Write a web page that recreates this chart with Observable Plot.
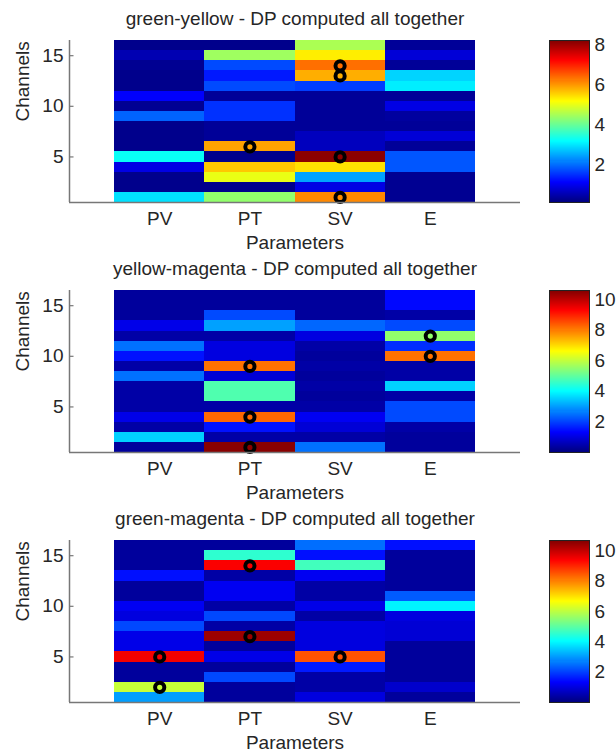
<!DOCTYPE html>
<html>
<head>
<meta charset="utf-8">
<script src="https://cdn.jsdelivr.net/npm/d3@7"></script>
<script src="https://cdn.jsdelivr.net/npm/@observablehq/plot@0.6"></script>
<style>
  body { margin: 0; background: #fff; }
  .panel { position: relative; width: 616px; height: 250px; }
  .panel svg { position: absolute; top: 0; }
</style>
</head>
<body>
<div id="root"></div>
<script>
// ---------- data ----------
const params = ["PV", "PT", "SV", "E"];
const channelTicks = [5, 10, 15];

// Values per parameter, channel 1 .. 16
// Panel 1: green-yellow
const gyTitle = "green-yellow - DP computed all together";
const gyRange = [0.1, 8.2];
const gyTicks = [2, 4, 6, 8];
const gyPV = [2.9, 0.2, 0.2, 0.9, 3.2, 0.2, 0.2, 0.2, 1.9, 0.25, 1.1, 0.2, 0.2, 0.25, 0.5, 0.2];
const gyPT = [4.3, 0.2, 5.0, 5.6, 0.2, 5.9, 0.3, 0.3, 1.5, 1.5, 0.3, 1.7, 1.3, 1.7, 4.4, 0.2];
const gySV = [6.1, 0.9, 2.4, 5.4, 8.1, 0.6, 0.6, 0.3, 0.3, 0.3, 0.3, 1.6, 5.8, 6.3, 5.3, 4.5];
const gyE  = [0.25, 0.25, 0.25, 1.8, 1.8, 0.3, 0.8, 0.3, 0.35, 0.9, 0.3, 3.0, 2.8, 0.3, 0.8, 0.3];
const gyMarks = [["PT", 6], ["SV", 14], ["SV", 13], ["SV", 5], ["SV", 1]];

// Panel 2: yellow-magenta
const ymTitle = "yellow-magenta - DP computed all together";
const ymRange = [0, 10.6];
const ymTicks = [2, 4, 6, 8, 10];
const ymPV = [0.3, 3.5, 0.4, 1.1, 0.4, 0.4, 0.4, 2.5, 0.4, 1.5, 2.5, 0.4, 1.1, 0.3, 0.3, 0.3];
const ymPT = [10.5, 0.4, 1.5, 8.2, 0.4, 4.8, 4.8, 0.9, 8.1, 1.0, 1.0, 0.4, 3.0, 2.1, 0.3, 0.3];
const ymSV = [2.5, 0.4, 0.9, 1.2, 0.4, 0.3, 0.4, 0.3, 0.4, 0.3, 0.4, 1.0, 2.4, 0.3, 0.3, 0.3];
const ymE  = [0.3, 0.3, 0.4, 2.1, 2.1, 0.4, 3.5, 0.4, 0.4, 8.1, 1.8, 5.5, 2.1, 0.4, 1.4, 1.4];
const ymMarks = [["PT", 9], ["PT", 4], ["PT", 1], ["E", 12], ["E", 10]];

// Panel 3: green-magenta
const gmTitle = "green-magenta - DP computed all together";
const gmRange = [0, 10.7];
const gmTicks = [2, 4, 6, 8, 10];
const gmPV = [3.0, 6.1, 0.3, 0.3, 9.5, 1.1, 1.1, 2.1, 1.0, 1.2, 0.3, 0.3, 1.5, 0.3, 0.3, 0.3];
const gmPT = [0.3, 0.3, 2.1, 0.3, 1.1, 0.3, 10.4, 0.4, 2.1, 0.4, 1.2, 1.2, 0.4, 9.4, 4.5, 0.3];
const gmSV = [1.0, 0.4, 0.4, 1.6, 8.5, 1.0, 1.0, 1.0, 0.4, 1.1, 0.4, 0.4, 1.2, 4.7, 1.5, 2.5];
const gmE  = [0.3, 0.8, 0.3, 0.3, 0.3, 0.3, 0.9, 0.9, 1.0, 3.9, 2.3, 0.3, 0.3, 0.3, 0.3, 1.5];
const gmMarks = [["PV", 5], ["PV", 2], ["PT", 14], ["PT", 7], ["SV", 5]];

// ---------- rendering ----------
const jet = d3.piecewise(d3.interpolateRgb, [
  "#00007f", "#0000ff", "#007fff", "#00ffff", "#7fff7f",
  "#ffff00", "#ff7f00", "#ff0000", "#7f0000"
]);
const FONT = "'Liberation Sans', Arial, Helvetica, sans-serif";
const TXT = "#262626";
const FS = 19;

const panels = [
  {title: gyTitle, range: gyRange, ticks: gyTicks, cols: [gyPV, gyPT, gySV, gyE], marks: gyMarks},
  {title: ymTitle, range: ymRange, ticks: ymTicks, cols: [ymPV, ymPT, ymSV, ymE], marks: ymMarks},
  {title: gmTitle, range: gmRange, ticks: gmTicks, cols: [gmPV, gmPT, gmSV, gmE], marks: gmMarks}
];

const root = document.getElementById("root");

for (const p of panels) {
  const cells = [];
  p.cols.forEach((col, i) => col.forEach((v, k) => cells.push({i, ch: k + 1, v})));
  const circ = p.marks.map(([name, ch]) => ({i: params.indexOf(name), ch}));
  const colorScale = {type: "linear", domain: p.range, interpolate: jet};

  const main = Plot.plot({
    width: 616, height: 250,
    marginTop: 40, marginBottom: 48, marginLeft: 69, marginRight: 96,
    style: {fontFamily: FONT, fontSize: FS + "px", color: TXT, background: "transparent", overflow: "visible"},
    x: {domain: [0, 5], axis: null},
    y: {domain: [0.5, 16.5], axis: null},
    color: colorScale,
    marks: [
      Plot.rect(cells, {
        x1: d => d.i + 0.5, x2: d => d.i + 1.5,
        y1: d => d.ch - 0.5, y2: d => d.ch + 0.5,
        fill: "v", shapeRendering: "crispEdges"
      }),
      Plot.dot(circ, {x: d => d.i + 1, y: "ch", r: 4.6, stroke: "black", strokeWidth: 4, fill: "none"}),
      Plot.ruleX([0], {stroke: "#777", strokeWidth: 1.5}),
      Plot.ruleY([0.5], {stroke: "#777", strokeWidth: 1.5}),
      Plot.ruleY(channelTicks, {x1: 0, x2: 0.05, stroke: "#777", strokeWidth: 1.2}),
      Plot.text(channelTicks, {y: d => d, frameAnchor: "left", dx: -6, textAnchor: "end", fontSize: FS}),
      Plot.text(params, {x: (d, i) => i + 1, frameAnchor: "bottom", dy: 16, lineAnchor: "middle", fontSize: FS}),
      Plot.text(["Parameters"], {frameAnchor: "bottom", dy: 40, lineAnchor: "middle", fontSize: FS}),
      Plot.text([p.title], {frameAnchor: "top", dy: -22, lineAnchor: "middle", fontSize: FS}),
      Plot.text(["Channels"], {frameAnchor: "left", dx: -47, rotate: -90, lineAnchor: "middle", fontSize: FS})
    ]
  });

  const [lo, hi] = p.range;
  const n = 160;
  const ramp = d3.range(n).map(k => {
    const a = lo + (hi - lo) * k / n, b = lo + (hi - lo) * (k + 1) / n;
    return {a, b, m: (a + b) / 2};
  });
  const bar = Plot.plot({
    width: 67, height: 250,
    marginTop: 40, marginBottom: 48, marginLeft: 0, marginRight: 27,
    style: {fontFamily: FONT, fontSize: FS + "px", color: TXT, background: "transparent", overflow: "visible"},
    x: {domain: [0, 1], axis: null},
    y: {domain: p.range, axis: null},
    color: colorScale,
    marks: [
      Plot.rect(ramp, {x1: 0, x2: 1, y1: "a", y2: "b", fill: "m", shapeRendering: "crispEdges"}),
      Plot.frame({stroke: "#222", strokeWidth: 1}),
      Plot.text(p.ticks, {y: d => d, frameAnchor: "right", dx: 5, textAnchor: "start", fontSize: FS})
    ]
  });

  const div = document.createElement("div");
  div.className = "panel";
  main.style.left = "0px";
  bar.style.left = "549px";
  div.appendChild(main);
  div.appendChild(bar);
  root.appendChild(div);
}
</script>
</body>
</html>
